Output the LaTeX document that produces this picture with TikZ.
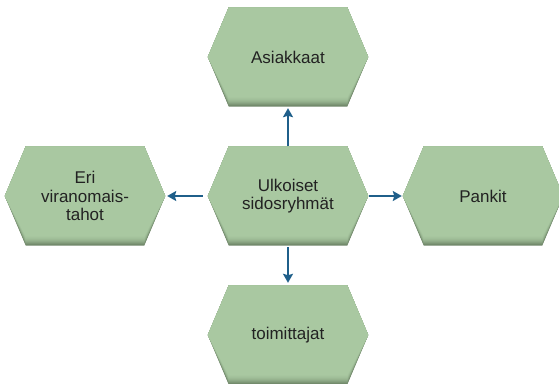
\documentclass[tikz,border=0pt]{standalone}
\usepackage{fontspec}
\setmainfont{Liberation Sans}
\usetikzlibrary{arrows.meta,backgrounds}
\definecolor{hexfill}{HTML}{A9C8A1}
\definecolor{hexdark}{HTML}{667C60}
\definecolor{arrowblue}{HTML}{1F5F8A}
\definecolor{txt}{HTML}{222222}
\tikzset{
  hexnode/.style={minimum width=160pt, minimum height=99pt, inner sep=0pt, align=center,
    text=txt, font=\fontsize{17}{18.5}\selectfont},
  conn/.style={draw=arrowblue, line width=2.5pt, -{Stealth[length=9pt,width=10pt,inset=1.5pt]}},
}
\newcommand\hexshape[1]{%
  \foreach \k/\c in {0/10,1/25,2/40,3/54,4/66,5/76,6/84,7/90,8/95,9/100}{
    \fill[hexfill!\c!hexdark] (#1.west) -- ([xshift=21pt]#1.north west)
      -- ([xshift=-21pt]#1.north east) -- (#1.east)
      -- ([xshift=-21pt,yshift=\k pt]#1.south east)
      -- ([xshift=21pt,yshift=\k pt]#1.south west) -- cycle;
  }}
\begin{document}
\begin{tikzpicture}[x=1pt,y=-1pt]
\useasboundingbox (0,0) rectangle (559,383);
\node[hexnode] (c) at (288,196) {Ulkoiset\\sidosryhmät};
\node[hexnode] (t) at (288,57) {Asiakkaat};
\node[hexnode] (b) at (288,335) {toimittajat};
\node[hexnode] (l) at (85,196) {Eri\\viranomais-\\tahot};
\node[hexnode] (r) at (483,196) {Pankit};
\begin{scope}[on background layer]
  \hexshape{c}\hexshape{t}\hexshape{b}\hexshape{l}\hexshape{r}
\end{scope}
\draw[conn, shorten >=1.5pt] (c.north) -- (t.south);
\draw[conn, shorten <=1.5pt, shorten >=2.5pt] (c.south) -- (b.north);
\draw[conn, shorten <=5pt, shorten >=2pt] (c.west) -- (l.east);
\draw[conn, shorten <=1pt, shorten >=1pt] (c.east) -- (r.west);
\end{tikzpicture}
\end{document}
